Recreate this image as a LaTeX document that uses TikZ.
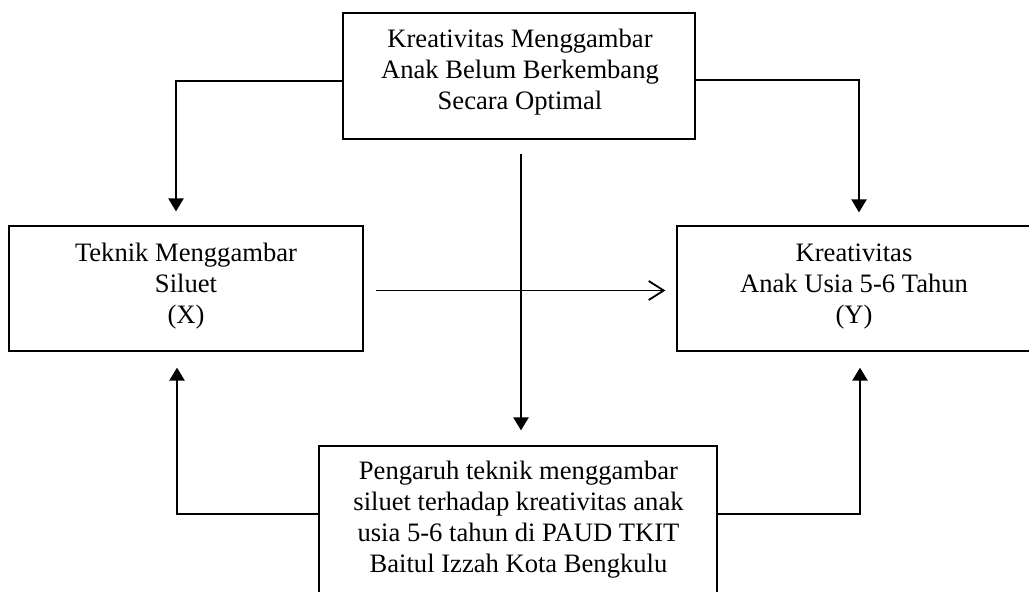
\documentclass[tikz,border=0pt]{standalone}
\usepackage{fontspec}
\setmainfont{Liberation Serif}
\usetikzlibrary{arrows.meta}
\tikzset{
  box/.style={draw, line width=1.2pt, inner sep=0pt},
  txt/.style={align=center, inner sep=0pt, anchor=north, font=\fontsize{26.6}{31}\selectfont},
  conn/.style={line width=2.3pt},
  hconn/.style={line width=1.8pt},
  tri/.style={conn, -{Triangle[length=13pt,width=15pt]}},
  barb/.style={hconn, -{Straight Barb[length=15pt,width=19pt]}}
}
\begin{document}
\begin{tikzpicture}[x=1pt,y=-1pt]
\useasboundingbox (0,0) rectangle (1029,592);
\clip (0,0) rectangle (1029,592);
\fill[white] (0,0) rectangle (1029,592);
% boxes
\node[box, minimum width=352pt, minimum height=126pt] (top) at (519,76) {};
\node[box, minimum width=354pt, minimum height=125pt] (left) at (186,288.5) {};
\node[box, minimum width=354pt, minimum height=125pt] (right) at (854,288.5) {};
\node[box, minimum width=398pt, minimum height=220pt] (bottom) at (518,556) {};
% texts
\node[txt] (toptxt) at (520,29.2) {Kreativitas Menggambar\\Anak Belum Berkembang\\Secara Optimal};
\node[txt] (lefttxt) at (186,243) {Teknik Menggambar\\Siluet\\(X)};
\node[txt] (righttxt) at (854,243.5) {Kreativitas\\Anak Usia 5-6 Tahun\\(Y)};
\node[txt] (bottomtxt) at (518.5,461) {Pengaruh teknik menggambar\\siluet terhadap kreativitas anak\\usia 5-6 tahun di PAUD TKIT\\Baitul Izzah Kota Bengkulu};
% connectors
\draw[tri, shorten >=14pt] ([yshift=-5pt]top.west) -| ([xshift=-10pt]left.north);
\draw[tri, shorten >=13pt] ([yshift=-4pt]top.east) -| ([xshift=5pt]right.north);
\draw[tri, shorten <=14pt, shorten >=15pt] ([xshift=2pt]top.south) -- ([xshift=2pt]top.south |- bottom.north);
\draw[barb, shorten <=12pt, shorten >=11pt] ([yshift=-2pt]left.east) -- ([yshift=-2pt]right.west);
\draw[tri, shorten >=16pt] ([yshift=42.3pt]bottom.west) -| ([xshift=-9pt]left.south);
\draw[tri, shorten >=16pt] ([yshift=42.3pt]bottom.east) -| ([xshift=6pt]right.south);
\end{tikzpicture}
\end{document}
